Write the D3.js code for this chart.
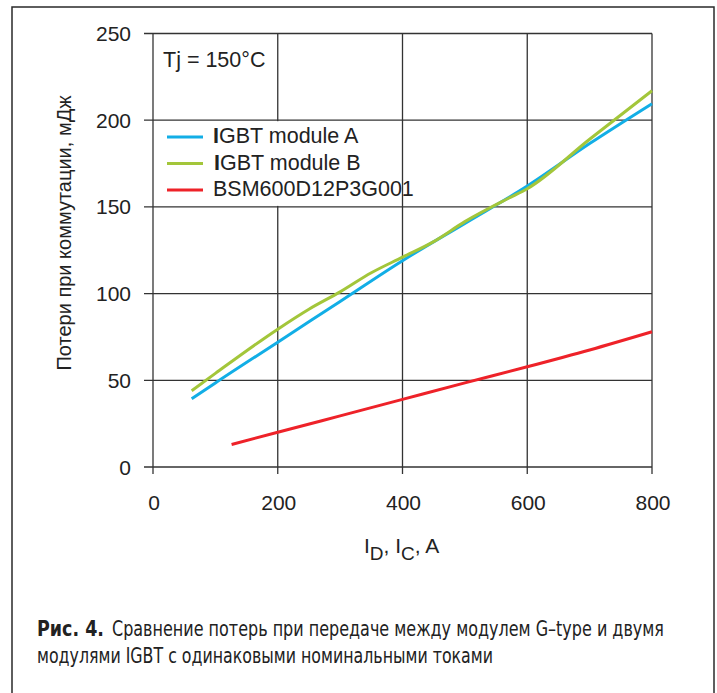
<!DOCTYPE html>
<html>
<head>
<meta charset="utf-8">
<script src="https://cdn.jsdelivr.net/npm/d3@7"></script>
<style>
  body { margin: 0; background: #fff; }
  svg { display: block; }
</style>
</head>
<body>
<script>
// data
const seriesNames = ["IGBT module A", "IGBT module B", "BSM600D12P3G001"];
const seriesColors = ["#12aee6", "#a3c63a", "#ee2229"];

const currentA = [62, 100, 200, 300, 400, 500, 600, 700, 800];
const lossA    = [39.3, 48.5, 72, 95.5, 119, 140.5, 162, 186.5, 209.5];

const currentB = [62, 100, 200, 250, 300, 350, 400, 450, 500, 570, 600, 700, 800];
const lossB    = [44, 54, 79.5, 91, 101, 112, 121, 130, 141.5, 155, 160.5, 189, 217];

const currentC = [126, 200, 300, 400, 500, 600, 700, 800];
const lossC    = [13, 20, 29.5, 39, 48.5, 57.8, 67.5, 78];

const xTicks = [0, 200, 400, 600, 800];
const yTicks = [0, 50, 100, 150, 200, 250];

const W = 717, H = 693;
const plot = {left: 153, right: 652, top: 33.5, bottom: 467};

const svg = d3.select("body").append("svg")
    .attr("width", W)
    .attr("height", H)
    .style("font-family", "'Liberation Sans', Arial, sans-serif");

// outer frame, bottom edge runs off the page
svg.append("rect")
    .attr("x", 12).attr("y", 7)
    .attr("width", 702).attr("height", 720)
    .attr("fill", "none")
    .attr("stroke", "#2a2a2a")
    .attr("stroke-width", 1.5);

const x = d3.scaleLinear().domain([0, 800]).range([plot.left, plot.right]);
const y = d3.scaleLinear().domain([0, 250]).range([plot.bottom, plot.top]);

const gridColor = "#333";

// grid
svg.append("g").selectAll("line.h")
    .data(yTicks)
    .enter().append("line")
    .attr("x1", plot.left - 9).attr("x2", plot.right)
    .attr("y1", d => y(d)).attr("y2", d => y(d))
    .attr("stroke", gridColor)
    .attr("stroke-width", 1.3);

svg.append("g").selectAll("line.v")
    .data(xTicks)
    .enter().append("line")
    .attr("x1", d => x(d)).attr("x2", d => x(d))
    .attr("y1", plot.top).attr("y2", plot.bottom + 7)
    .attr("stroke", gridColor)
    .attr("stroke-width", 1.3);

// tick labels
svg.append("g").selectAll("text")
    .data(yTicks)
    .enter().append("text")
    .attr("x", 131)
    .attr("y", d => y(d))
    .attr("dy", "0.36em")
    .attr("text-anchor", "end")
    .attr("font-size", 21)
    .attr("fill", "#222")
    .text(d => d);

svg.append("g").selectAll("text")
    .data(xTicks)
    .enter().append("text")
    .attr("x", d => x(d) + 1)
    .attr("y", 509.5)
    .attr("text-anchor", "middle")
    .attr("font-size", 21)
    .attr("fill", "#222")
    .text(d => d);

// axis titles
svg.append("text")
    .attr("transform", "translate(71,233) rotate(-90)")
    .attr("text-anchor", "middle")
    .attr("font-size", 20)
    .attr("fill", "#222")
    .text("Потери при коммутации, мДж");

const xt = svg.append("text")
    .attr("x", 364)
    .attr("y", 553)
    .attr("font-size", 21)
    .attr("fill", "#222");
xt.append("tspan").text("I");
xt.append("tspan").attr("dy", 7).attr("font-size", 19).text("D");
xt.append("tspan").attr("dy", -7).text(", I");
xt.append("tspan").attr("dy", 7).attr("font-size", 19).text("C");
xt.append("tspan").attr("dy", -7).text(", A");

// curves
const line = d3.line()
    .x(d => x(d[0]))
    .y(d => y(d[1]))
    .curve(d3.curveMonotoneX);

const series = [
    d3.zip(currentA, lossA),
    d3.zip(currentB, lossB),
    d3.zip(currentC, lossC)
];

series.forEach(function (pts, i) {
    svg.append("path")
        .attr("d", line(pts))
        .attr("fill", "none")
        .attr("stroke", seriesColors[i])
        .attr("stroke-width", 3);
});

// legend sits on a white box over the grid
svg.append("rect")
    .attr("x", plot.left + 1).attr("y", y(200) + 1)
    .attr("width", 240).attr("height", y(150) - y(200) - 2)
    .attr("fill", "#fff");

seriesNames.forEach(function (name, i) {
    const ly = 137 + i * 26.5;
    svg.append("line")
        .attr("x1", 167).attr("x2", 203)
        .attr("y1", ly).attr("y2", ly)
        .attr("stroke", seriesColors[i])
        .attr("stroke-width", 3);
    const t = svg.append("text")
        .attr("x", i == 1 ? 214 : 213)
        .attr("y", ly + 6)
        .attr("font-size", 21.5)
        .attr("fill", "#222");
    if (name.startsWith("IGBT")) {
        t.append("tspan").attr("font-weight", "bold").text("I");
        t.append("tspan").text(name.slice(1));
    } else {
        t.text(name);
    }
});

svg.append("text")
    .attr("x", 163)
    .attr("y", 67)
    .attr("font-size", 21.5)
    .attr("fill", "#222")
    .text("Tj = 150°C");

// caption: condensed face, stretched tall and squeezed to the printed width
const capFont = "'Liberation Sans Narrow', 'DejaVu Sans Condensed', 'Roboto', sans-serif";
const captionParts = [
    {x: 37, y: 636, w: 67, bold: true, text: "Рис. 4."},
    {x: 112, y: 636, w: 552, bold: false, text: "Сравнение потерь при передаче между модулем G–type и двумя"},
    {x: 37, y: 663, w: 456, bold: false, text: "модулями IGBT с одинаковыми номинальными токами"}
];

captionParts.forEach(function (c) {
    svg.append("text")
        .attr("transform", "translate(" + c.x + "," + c.y + ") scale(1,1.2)")
        .attr("font-family", capFont)
        .attr("font-stretch", "condensed")
        .attr("font-weight", c.bold ? "bold" : "normal")
        .attr("font-size", 17)
        .attr("fill", "#222")
        .attr("textLength", c.w)
        .attr("lengthAdjust", "spacingAndGlyphs")
        .text(c.text);
});
</script>
</body>
</html>
